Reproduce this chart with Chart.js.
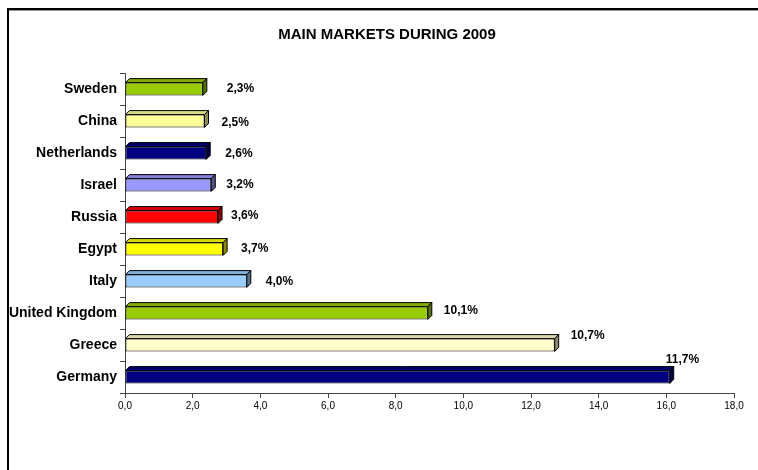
<!DOCTYPE html>
<html>
<head>
<meta charset="utf-8">
<script src="https://cdn.jsdelivr.net/npm/chart.js@4"></script>
<style>
    body { margin: 0; overflow: hidden; background: #fff; }
    #frame {
        position: absolute; left: 7px; top: 8px; width: 800px; height: 500px;
        border-top: 2px solid #000; border-left: 2px solid #000;
        box-shadow: inset 0 1px 0 #999;
    }
    #box { position: absolute; left: 9px; top: 10px; width: 760px; height: 460px; }
</style>
</head>
<body>
<div id="frame"></div>
<div id="box"><canvas id="mercados"></canvas></div>
<script>
// dados
const titulo = 'MAIN MARKETS DURING 2009';
const paises = ['Sweden', 'China', 'Netherlands', 'Israel', 'Russia', 'Egypt', 'Italy', 'United Kingdom', 'Greece', 'Germany'];
const valores = [2.3, 2.35, 2.4, 2.55, 2.75, 2.9, 3.6, 8.95, 12.7, 16.1];
const percentuais = [2.3, 2.5, 2.6, 3.2, 3.6, 3.7, 4.0, 10.1, 10.7, 11.7];
const cores = ['#99cc00', '#ffff99', '#000080', '#9999ff', '#ff0000', '#ffff00', '#99ccff', '#99cc00', '#ffffcc', '#000080'];

// deslocamento dos rótulos (estilo)
const rotuloDx = [20, 13, 15, 11, 9, 14, 15, 12, 12, -8];
const rotuloDy = [0, 2, 1, 0, -1, 0, 1, -2, -9, -17];

const fonte = "'Liberation Sans', Arial, sans-serif";

function escurecer(hex, f) {
    const n = parseInt(hex.slice(1), 16);
    const r = Math.round(((n >> 16) & 255) * f);
    const g = Math.round(((n >> 8) & 255) * f);
    const b = Math.round((n & 255) * f);
    return 'rgb(' + r + ',' + g + ',' + b + ')';
}

// efeito 3D nas barras + rótulos + título
const barras3d = {
    id: 'barras3d',
    afterDatasetsDraw(chart) {
        const c = chart.ctx;
        const d = 4;
        chart.getDatasetMeta(0).data.forEach((bar, i) => {
            const x0 = bar.base, x1 = bar.x;
            const y0 = bar.y - bar.height / 2, y1 = bar.y + bar.height / 2;
            c.save();
            c.lineWidth = 1;
            c.strokeStyle = '#000';
            // topo
            c.beginPath();
            c.moveTo(x0, y0);
            c.lineTo(x0 + d, y0 - d);
            c.lineTo(x1 + d, y0 - d);
            c.lineTo(x1, y0);
            c.closePath();
            c.fillStyle = escurecer(cores[i], 0.85);
            c.fill();
            c.stroke();
            // lado
            c.beginPath();
            c.moveTo(x1, y0);
            c.lineTo(x1 + d, y0 - d);
            c.lineTo(x1 + d, y1 - d);
            c.lineTo(x1, y1);
            c.closePath();
            c.fillStyle = escurecer(cores[i], 0.55);
            c.fill();
            c.stroke();
            // rótulo
            c.fillStyle = '#000';
            c.font = 'bold 12px ' + fonte;
            c.textAlign = 'left';
            c.textBaseline = 'middle';
            c.fillText(percentuais[i].toFixed(1).replace('.', ',') + '%', x1 + d + rotuloDx[i], bar.y + rotuloDy[i]);
            c.restore();
        });
    },
    afterDraw(chart) {
        const c = chart.ctx;
        c.save();
        c.fillStyle = '#000';
        c.font = 'bold 15px ' + fonte;
        c.textAlign = 'center';
        c.textBaseline = 'middle';
        c.fillText(titulo, chart.width / 2 - 2, 25);
        c.restore();
    }
};

const ctx = document.getElementById('mercados');
new Chart(ctx, {
    type: 'bar',
    data: {
        labels: paises,
        datasets: [{
            data: valores,
            backgroundColor: cores,
            borderColor: '#000',
            borderWidth: 1,
            borderSkipped: false,
            categoryPercentage: 1,
            barPercentage: 0.4
        }]
    },
    options: {
        indexAxis: 'y',
        responsive: true,
        maintainAspectRatio: false,
        animation: false,
        layout: { padding: { left: 0, right: 35, top: 63, bottom: 0 } },
        scales: {
            x: {
                min: 0,
                max: 18,
                afterFit(scale) { scale.height = 77; },
                ticks: {
                    stepSize: 2,
                    color: '#000',
                    padding: 2,
                    font: { family: fonte, size: 10 },
                    callback: (v) => Number(v).toFixed(1).replace('.', ',')
                },
                grid: { drawOnChartArea: false, tickLength: 5, color: '#444' },
                border: { color: '#444' }
            },
            y: {
                afterFit(scale) { scale.width = 116; },
                ticks: {
                    color: '#000',
                    padding: 3,
                    font: { family: fonte, size: 14, weight: 'bold' }
                },
                grid: { drawOnChartArea: false, tickLength: 5, color: '#444', offset: true },
                border: { color: '#444' }
            }
        },
        plugins: {
            legend: { display: false },
            tooltip: { enabled: false },
            title: { display: false }
        }
    },
    plugins: [barras3d]
});
</script>
</body>
</html>
